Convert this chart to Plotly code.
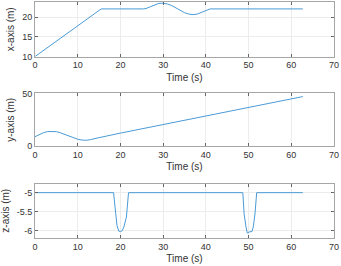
import plotly.graph_objects as go

# x-axis position data
tx = [0, 15.5, 25.4, 26, 27, 28, 29, 30, 31, 32, 33, 34, 35, 36, 37, 38, 39, 40, 41, 62.7]
xv = [10, 22.05, 22.05, 22.15, 22.6, 23.1, 23.45, 23.5, 23.3, 22.9, 22.3, 21.7, 21.1, 20.75, 20.6, 20.75, 21.15, 21.6, 22.05, 22.05]

# y-axis position data
ty = [0, 1, 2, 3, 4, 5, 6, 7, 8, 9, 10, 11, 12, 13, 14, 15, 20, 30, 40, 50, 60, 62.7]
yv = [9.0, 11.0, 12.8, 13.9, 14.2, 13.8, 12.6, 11.0, 9.3, 7.8, 6.6, 5.8, 5.6, 6.2, 7.3, 8.1, 12.4, 20.5, 28.6, 36.7, 44.8, 47.0]

# z-axis position data
tz = [0, 18.4, 18.9, 19.2, 19.6, 20.0, 20.4, 20.8, 21.4, 21.8, 21.9,
      48.65, 48.96, 49.4, 49.7, 50.2, 50.8, 51.1, 51.5, 51.9, 62.7]
zv = [-5, -5, -5.55, -5.86, -6.01, -6.02, -6.0, -5.9, -5.64, -5.2, -5,
      -5, -5.56, -5.9, -6.06, -6.03, -6.02, -5.9, -5.56, -5, -5]

ylabels = ["x-axis (m)", "y-axis (m)", "z-axis (m)"]
yranges = [[10, 23.8], [0, 50], [-6.19, -4.76]]
ytickvals = [[10, 15, 20], [0, 50], [-6, -5.5, -5]]
yticktext = [["10", "15", "20"], ["0", "50"], ["-6", "-5.5", "-5"]]

H = 266
top_m, bot_m = 2, 28.3
ph = H - top_m - bot_m
def frac(px):
    return (H - bot_m - px) / ph

domains = [[frac(56.5), 1.0], [frac(146), frac(93.3)], [0.0, frac(183.3)]]

LINE = "#4a9bd6"
font = dict(family="Liberation Sans, Arial, sans-serif", size=9, color="#333333")

fig = go.Figure()
series = [(tx, xv), (ty, yv), (tz, zv)]
for i, (t, v) in enumerate(series):
    n = "" if i == 0 else str(i + 1)
    fig.add_trace(go.Scatter(x=t, y=v, mode="lines", line=dict(color=LINE, width=1),
                             xaxis="x" + n, yaxis="y" + n, showlegend=False,
                             hoverinfo="skip"))
    axcommon = dict(showline=True, linecolor="#a6a6a6", linewidth=1, mirror="ticks",
                    ticks="inside", ticklen=3, tickcolor="#666666", showgrid=True,
                    gridcolor="#ececec", gridwidth=1, zeroline=False, tickfont=font,
                    automargin=False)
    fig.layout["xaxis" + n] = dict(axcommon, domain=[0, 1], range=[0, 70],
                                   tickvals=[0, 10, 20, 30, 40, 50, 60, 70],
                                   anchor="y" + n,
                                   title=dict(text="Time (s)", font=dict(font, size=10), standoff=4))
    fig.layout["yaxis" + n] = dict(axcommon, domain=domains[i], range=yranges[i],
                                   tickvals=ytickvals[i], ticktext=yticktext[i],
                                   anchor="x" + n,
                                   title=dict(text=ylabels[i], font=dict(font, size=10), standoff=5))

fig.update_layout(width=341, height=266, margin=dict(l=34.5, r=7, t=top_m, b=bot_m),
                  paper_bgcolor="white", plot_bgcolor="white")
fig.write_html("out.html", config={"displayModeBar": False},
               post_script="document.body.style.margin='0';")
